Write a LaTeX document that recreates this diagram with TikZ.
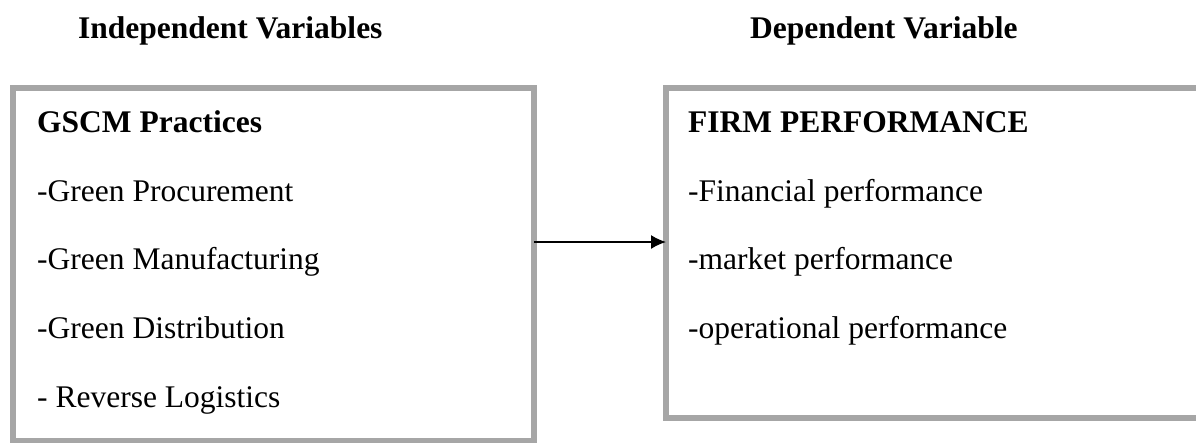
\documentclass[tikz,border=0pt]{standalone}
\usepackage{fontspec}
\setmainfont{Liberation Serif}
\usetikzlibrary{arrows.meta}
\definecolor{boxgray}{RGB}{166,166,166}
\tikzset{
  x=1pt, y=1pt,
  frame/.style={draw=boxgray, line width=6pt, rectangle, inner sep=0pt, outer sep=0pt},
  txt/.style={anchor=base west, inner sep=0pt, font=\fontsize{31.5}{36}\selectfont},
  head/.style={txt, font=\fontsize{31.5}{36}\selectfont\bfseries},
  conn/.style={line width=1.6pt, -{Latex[length=15pt, width=14pt]}}
}
\begin{document}
\begin{tikzpicture}
\useasboundingbox (0,0) rectangle (1196,-442);
\clip (0,0) rectangle (1196,-442);
\node[frame, minimum width=521pt, minimum height=353pt] (lbox) at (273.5,-264.5) {};
\node[frame, minimum width=536pt, minimum height=330pt] (rbox) at (934,-253) {};
\node[head] (hl) at (78,-38) {Independent Variables};
\node[head] (hr) at (750,-38) {Dependent Variable};
\node[head] (l0) at (37,-132) {GSCM Practices};
\node[txt] (l1) at (37,-201) {-Green Procurement};
\node[txt] (l2) at (37,-269) {-Green Manufacturing};
\node[txt] (l3) at (37,-338) {-Green Distribution};
\node[txt] (l4) at (37,-407) {- Reverse Logistics};
\node[head] (r0) at (688,-132) {FIRM PERFORMANCE};
\node[txt] (r1) at (688,-201) {-Financial performance};
\node[txt] (r2) at (688,-269) {-market performance};
\node[txt] (r3) at (688,-338) {-operational performance};
\coordinate (arr) at (0,-242);
\draw[conn] (lbox.east |- arr) -- (rbox.west |- arr);
\end{tikzpicture}
\end{document}
